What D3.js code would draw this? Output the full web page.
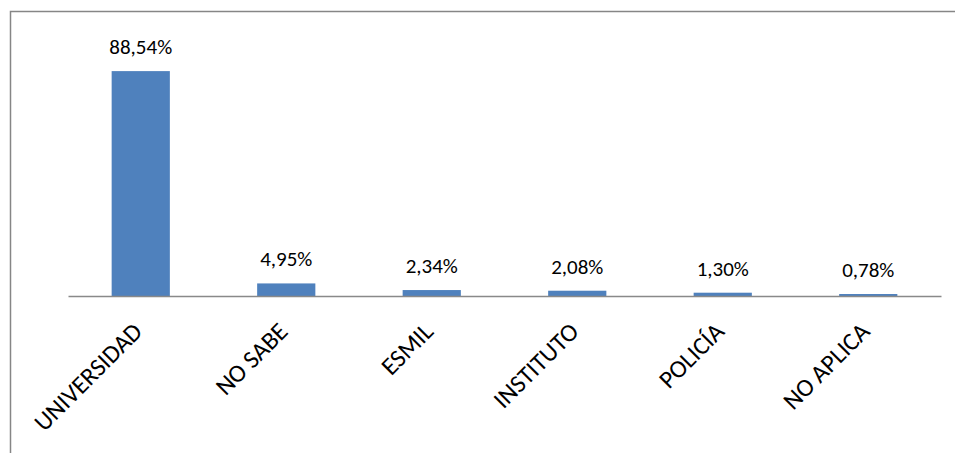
<!DOCTYPE html>
<html>
<head>
<meta charset="utf-8">
<script src="https://cdn.jsdelivr.net/npm/d3@7"></script>
<style>
  html, body { margin: 0; padding: 0; background: #fff; }
  svg { display: block; }
</style>
</head>
<body>
<svg id="chart" width="955" height="453"></svg>
<script>
// Destino de los estudiantes (%)
const categories = ["UNIVERSIDAD", "NO SABE", "ESMIL", "INSTITUTO", "POLICÍA", "NO APLICA"];
const values = [88.54, 4.95, 2.34, 2.08, 1.30, 0.78];
const valueLabels = ["88,54%", "4,95%", "2,34%", "2,08%", "1,30%", "0,78%"];

const svg = d3.select("#chart");
const W = 955, H = 453;
const font = "Carlito, Calibri, Lato, 'Open Sans', sans-serif";

// Marco exterior del gráfico
svg.append("rect")
  .attr("x", 10.5).attr("y", 11.5)
  .attr("width", W + 10).attr("height", H + 10)
  .attr("fill", "none")
  .attr("stroke", "#868686")
  .attr("stroke-width", 1.5);

const plot = { left: 68, right: 941, top: 42, bottom: 296 };

const x = d3.scaleBand()
  .domain(categories)
  .range([plot.left, plot.right])
  .padding(0);

const y = d3.scaleLinear()
  .domain([0, 100])
  .range([plot.bottom, plot.top]);

const barW = x.bandwidth() * 0.4;

svg.append("g").selectAll("rect")
  .data(values)
  .join("rect")
  .attr("x", (d, i) => x(categories[i]) + (x.bandwidth() - barW) / 2)
  .attr("y", d => y(d))
  .attr("width", barW)
  .attr("height", d => y(0) - y(d))
  .attr("fill", "#4F81BD");

// Etiquetas de valor
svg.append("g").selectAll("text")
  .data(values)
  .join("text")
  .attr("x", (d, i) => x(categories[i]) + x.bandwidth() / 2)
  .attr("y", d => y(d) - 17)
  .attr("text-anchor", "middle")
  .attr("font-family", font)
  .attr("font-size", 21)
  .attr("fill", "#000")
  .text((d, i) => valueLabels[i]);

// Eje de categorías
const axis = svg.append("g")
  .attr("transform", `translate(0,${plot.bottom})`)
  .call(d3.axisBottom(x).tickSize(0).tickPadding(0));
axis.select(".domain")
  .attr("stroke", "#898989")
  .attr("stroke-width", 1.5);
axis.selectAll(".tick text")
  .attr("font-family", font)
  .attr("font-size", 25)
  .attr("fill", "#000")
  .attr("text-anchor", "end")
  .attr("dy", null)
  .attr("y", 0)
  .attr("transform", "translate(3,37) rotate(-45)");
</script>
</body>
</html>
